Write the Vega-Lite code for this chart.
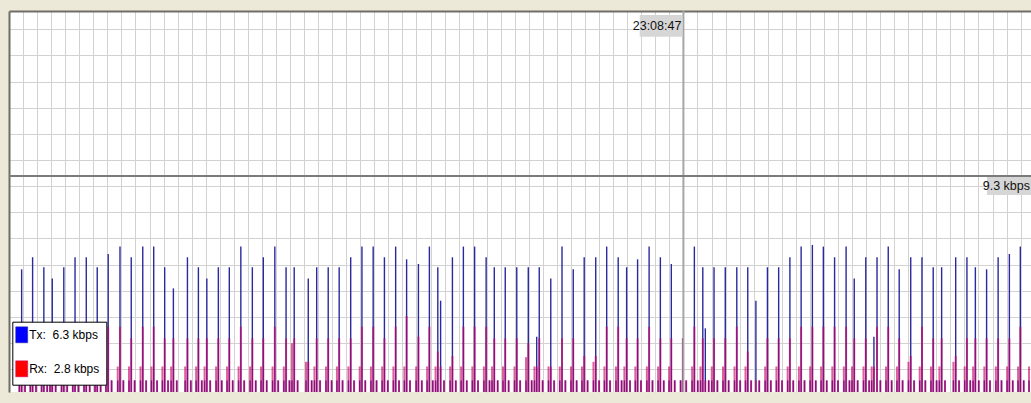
{
  "$schema": "https://vega.github.io/schema/vega-lite/v6.json",
  "width": 1022,
  "height": 381,
  "autosize": "none",
  "padding": {"left": 9, "top": 11, "right": 0, "bottom": 11},
  "background": "#ece9d8",
  "data": {"values": [
    {"t":3.7,"tx":0.5,"rx":1.1},{"t":4.5,"tx":5.28,"rx":2.31},{"t":5.7,"tx":0.5,"rx":0.5},
    {"t":7.6,"tx":0.5,"rx":1.1},{"t":8.4,"tx":5.8,"rx":2.31},{"t":9.6,"tx":0.5,"rx":0.5},
    {"t":11.6,"tx":0.5,"rx":1.1},{"t":12.4,"tx":5.37,"rx":2.31},{"t":13.6,"tx":0.5,"rx":0.5},
    {"t":14.6,"tx":0.5,"rx":0.9},{"t":15.4,"tx":4.89,"rx":2.31},{"t":16.6,"tx":0.5,"rx":0.5},
    {"t":18.7,"tx":0.5,"rx":1.1},{"t":19.5,"tx":5.37,"rx":2.31},{"t":20.7,"tx":0.5,"rx":0.5},
    {"t":22.7,"tx":0.5,"rx":1.1},{"t":23.5,"tx":5.8,"rx":2.31},{"t":24.7,"tx":0.5,"rx":0.5},
    {"t":26.7,"tx":0.5,"rx":1.1},{"t":27.5,"tx":5.8,"rx":2.31},{"t":28.7,"tx":0.5,"rx":0.5},
    {"t":30.6,"tx":0.5,"rx":1.1},{"t":31.4,"tx":5.37,"rx":2.31},{"t":32.6,"tx":0.5,"rx":0.5},
    {"t":34.5,"tx":0.5,"rx":1.1},{"t":35.3,"tx":5.94,"rx":2.81},{"t":36.5,"tx":0.5,"rx":0.5},
    {"t":38.7,"tx":0.5,"rx":1.1},{"t":39.5,"tx":6.26,"rx":2.81},{"t":40.7,"tx":0.5,"rx":0.5},
    {"t":42.7,"tx":0.5,"rx":1.1},{"t":43.5,"tx":5.8,"rx":2.31},{"t":44.7,"tx":0.5,"rx":0.5},
    {"t":46.8,"tx":0.5,"rx":1.1},{"t":47.6,"tx":6.26,"rx":2.81},{"t":48.8,"tx":0.5,"rx":0.5},
    {"t":50.7,"tx":0.5,"rx":1.1},{"t":51.5,"tx":6.26,"rx":2.81},{"t":52.7,"tx":0.5,"rx":0.5},
    {"t":54.6,"tx":0.5,"rx":1.1},{"t":55.4,"tx":5.37,"rx":2.31},{"t":56.6,"tx":0.5,"rx":0.5},
    {"t":57.7,"tx":0.5,"rx":1.1},{"t":58.5,"tx":4.46,"rx":2.31},{"t":59.7,"tx":0.5,"rx":0.5},
    {"t":62.7,"tx":0.5,"rx":1.1},{"t":63.5,"tx":5.8,"rx":2.31},{"t":64.7,"tx":0.5,"rx":0.5},
    {"t":66.6,"tx":0.5,"rx":1.1},{"t":67.4,"tx":5.37,"rx":2.31},{"t":68.6,"tx":0.5,"rx":0.5},
    {"t":69.6,"tx":0.5,"rx":1.1},{"t":70.4,"tx":4.89,"rx":2.31},{"t":71.6,"tx":0.5,"rx":0.5},
    {"t":73.7,"tx":0.5,"rx":1.1},{"t":74.5,"tx":5.37,"rx":2.31},{"t":75.7,"tx":0.5,"rx":0.5},
    {"t":77.6,"tx":0.5,"rx":1.1},{"t":78.4,"tx":5.37,"rx":2.31},{"t":79.6,"tx":0.5,"rx":0.5},
    {"t":81.7,"tx":0.5,"rx":1.1},{"t":82.5,"tx":6.26,"rx":2.81},{"t":83.7,"tx":0.5,"rx":0.5},
    {"t":85.8,"tx":0.5,"rx":1.1},{"t":86.6,"tx":5.37,"rx":2.31},{"t":87.8,"tx":0.5,"rx":0.5},
    {"t":89.7,"tx":0.5,"rx":1.1},{"t":90.5,"tx":5.8,"rx":2.31},{"t":91.7,"tx":0.5,"rx":0.5},
    {"t":93.8,"tx":0.5,"rx":1.1},{"t":94.6,"tx":6.26,"rx":2.81},{"t":95.8,"tx":0.5,"rx":0.5},
    {"t":97.8,"tx":0.5,"rx":1.1},{"t":98.6,"tx":5.37,"rx":2.31},{"t":99.8,"tx":0.5,"rx":0.5},
    {"t":100.7,"tx":0.5,"rx":2.1},{"t":101.5,"tx":5.37,"rx":2.31},{"t":102.7,"tx":0.5,"rx":0.5},
    {"t":105.7,"tx":0.5,"rx":1.3},{"t":106.5,"tx":4.89,"rx":1.3},{"t":107.7,"tx":0.5,"rx":0.5},
    {"t":108.7,"tx":0.5,"rx":1.1},{"t":109.5,"tx":5.37,"rx":2.31},{"t":110.7,"tx":0.5,"rx":0.5},
    {"t":112.8,"tx":0.5,"rx":1.1},{"t":113.6,"tx":5.37,"rx":2.31},{"t":114.8,"tx":0.5,"rx":0.5},
    {"t":116.7,"tx":0.5,"rx":1.1},{"t":117.5,"tx":5.37,"rx":2.31},{"t":118.7,"tx":0.5,"rx":0.5},
    {"t":120.8,"tx":0.5,"rx":1.1},{"t":121.6,"tx":5.8,"rx":2.31},{"t":122.8,"tx":0.5,"rx":0.5},
    {"t":124.8,"tx":0.5,"rx":1.1},{"t":125.6,"tx":6.26,"rx":2.81},{"t":126.8,"tx":0.5,"rx":0.5},
    {"t":128.8,"tx":0.5,"rx":1.1},{"t":129.6,"tx":6.26,"rx":2.81},{"t":130.8,"tx":0.5,"rx":0.5},
    {"t":132.8,"tx":0.5,"rx":1.1},{"t":133.6,"tx":5.8,"rx":2.31},{"t":134.8,"tx":0.5,"rx":0.5},
    {"t":136.8,"tx":0.5,"rx":1.1},{"t":137.6,"tx":6.26,"rx":2.81},{"t":138.8,"tx":0.5,"rx":0.5},
    {"t":140.7,"tx":0.5,"rx":1.1},{"t":141.5,"tx":5.71,"rx":3.27},{"t":142.7,"tx":0.5,"rx":0.5},
    {"t":144.9,"tx":0.5,"rx":1.1},{"t":145.7,"tx":5.51,"rx":2.38},{"t":146.9,"tx":0.5,"rx":0.5},
    {"t":148.8,"tx":0.5,"rx":1.1},{"t":149.6,"tx":6.26,"rx":2.81},{"t":150.8,"tx":0.5,"rx":0.5},
    {"t":151.8,"tx":0.5,"rx":1.1},{"t":152.6,"tx":5.37,"rx":1.74},{"t":153.6,"tx":3.93,"rx":1.09},{"t":154.8,"tx":0.5,"rx":0.5},
    {"t":157.0,"tx":0.5,"rx":1.1},{"t":157.8,"tx":5.8,"rx":1.55},{"t":159.0,"tx":0.5,"rx":0.5},
    {"t":160.9,"tx":0.5,"rx":1.1},{"t":161.7,"tx":6.26,"rx":2.81},{"t":162.9,"tx":0.5,"rx":0.5},
    {"t":164.9,"tx":0.5,"rx":1.1},{"t":165.7,"tx":6.26,"rx":2.81},{"t":166.9,"tx":0.5,"rx":0.5},
    {"t":169.0,"tx":0.5,"rx":1.1},{"t":169.8,"tx":5.8,"rx":2.81},{"t":171.0,"tx":0.5,"rx":0.5},
    {"t":171.9,"tx":0.5,"rx":1.1},{"t":172.7,"tx":5.37,"rx":2.31},{"t":173.9,"tx":0.5,"rx":0.5},
    {"t":175.8,"tx":0.5,"rx":1.1},{"t":176.6,"tx":5.37,"rx":2.31},{"t":177.8,"tx":0.5,"rx":0.5},
    {"t":179.9,"tx":0.5,"rx":1.1},{"t":180.7,"tx":5.37,"rx":2.31},{"t":181.9,"tx":0.5,"rx":0.5},
    {"t":184.0,"tx":0.5,"rx":1.5},{"t":184.8,"tx":5.37,"rx":2.1},{"t":186.0,"tx":0.5,"rx":0.5},
    {"t":187.0,"tx":0.5,"rx":1.1},{"t":187.8,"tx":2.38,"rx":1.09},{"t":188.7,"tx":5.37,"rx":2.31},{"t":189.9,"tx":0.5,"rx":0.5},
    {"t":192.0,"tx":0.5,"rx":1.1},{"t":192.8,"tx":4.89,"rx":1.09},{"t":194.0,"tx":0.5,"rx":0.5},
    {"t":196.0,"tx":0.5,"rx":1.1},{"t":196.8,"tx":6.26,"rx":2.31},{"t":198.0,"tx":0.5,"rx":0.5},
    {"t":200.0,"tx":0.5,"rx":1.1},{"t":200.8,"tx":5.28,"rx":2.31},{"t":202.0,"tx":0.5,"rx":0.5},
    {"t":203.9,"tx":0.5,"rx":1.1},{"t":204.7,"tx":5.8,"rx":1.55},{"t":205.9,"tx":0.5,"rx":0.5},
    {"t":208.0,"tx":0.5,"rx":1.3},{"t":208.8,"tx":5.8,"rx":1.55},{"t":210.0,"tx":0.5,"rx":0.5},
    {"t":211.9,"tx":0.5,"rx":1.1},{"t":212.7,"tx":6.26,"rx":2.81},{"t":213.9,"tx":0.5,"rx":0.5},
    {"t":216.0,"tx":0.5,"rx":1.1},{"t":216.8,"tx":5.8,"rx":2.81},{"t":218.0,"tx":0.5,"rx":0.5},
    {"t":219.0,"tx":0.5,"rx":1.1},{"t":219.8,"tx":5.37,"rx":2.31},{"t":221.0,"tx":0.5,"rx":0.5},
    {"t":222.9,"tx":0.5,"rx":1.1},{"t":223.7,"tx":5.71,"rx":2.31},{"t":224.9,"tx":0.5,"rx":0.5},
    {"t":227.0,"tx":0.5,"rx":1.1},{"t":227.8,"tx":6.26,"rx":2.81},{"t":229.0,"tx":0.5,"rx":0.5},
    {"t":231.0,"tx":0.5,"rx":1.1},{"t":231.8,"tx":5.8,"rx":2.31},{"t":233.0,"tx":0.5,"rx":0.5},
    {"t":234.9,"tx":0.5,"rx":1.1},{"t":235.7,"tx":5.51,"rx":2.31},{"t":236.9,"tx":0.5,"rx":0.5},
    {"t":239.0,"tx":0.5,"rx":0.5},{"t":239.8,"tx":2.31,"rx":2.31},{"t":241.0,"tx":0.5,"rx":0.5},
    {"t":243.1,"tx":0.5,"rx":1.1},{"t":243.9,"tx":6.26,"rx":2.81},{"t":245.1,"tx":0.5,"rx":0.5},
    {"t":246.1,"tx":0.5,"rx":1.1},{"t":246.9,"tx":5.37,"rx":2.31},{"t":247.8,"tx":2.74,"rx":0.5},{"t":249.0,"tx":0.5,"rx":0.5},
    {"t":250.1,"tx":0.5,"rx":1.1},{"t":250.9,"tx":5.37,"rx":2.31},{"t":252.1,"tx":0.5,"rx":0.5},
    {"t":254.1,"tx":0.5,"rx":1.1},{"t":254.9,"tx":5.37,"rx":2.31},{"t":256.1,"tx":0.5,"rx":0.5},
    {"t":258.2,"tx":0.5,"rx":1.1},{"t":259.0,"tx":5.37,"rx":2.81},{"t":260.2,"tx":0.5,"rx":0.5},
    {"t":262.1,"tx":0.5,"rx":1.1},{"t":262.9,"tx":5.37,"rx":1.74},{"t":264.1,"tx":0.5,"rx":0.5},
    {"t":265.8,"tx":3.93,"rx":0.5},{"t":267.0,"tx":0.5,"rx":0.5},
    {"t":269.1,"tx":0.5,"rx":1.1},{"t":269.9,"tx":5.37,"rx":2.31},{"t":271.1,"tx":0.5,"rx":0.5},
    {"t":273.1,"tx":0.5,"rx":1.1},{"t":273.9,"tx":5.37,"rx":2.31},{"t":275.1,"tx":0.5,"rx":0.5},
    {"t":277.1,"tx":0.5,"rx":1.1},{"t":277.9,"tx":5.8,"rx":2.31},{"t":279.1,"tx":0.5,"rx":0.5},
    {"t":281.1,"tx":0.5,"rx":1.1},{"t":281.9,"tx":6.26,"rx":2.81},{"t":283.1,"tx":0.5,"rx":0.5},
    {"t":285.1,"tx":0.5,"rx":1.1},{"t":285.9,"tx":6.33,"rx":2.81},{"t":287.1,"tx":0.5,"rx":0.5},
    {"t":289.0,"tx":0.5,"rx":1.1},{"t":289.8,"tx":6.26,"rx":2.81},{"t":291.0,"tx":0.5,"rx":0.5},
    {"t":293.0,"tx":0.5,"rx":1.1},{"t":293.8,"tx":5.8,"rx":2.81},{"t":295.0,"tx":0.5,"rx":0.5},
    {"t":297.1,"tx":0.5,"rx":1.1},{"t":297.9,"tx":6.26,"rx":2.81},{"t":299.1,"tx":0.5,"rx":0.5},
    {"t":300.0,"tx":0.5,"rx":1.1},{"t":300.8,"tx":4.89,"rx":2.31},{"t":302.0,"tx":0.5,"rx":0.5},
    {"t":304.1,"tx":0.5,"rx":1.1},{"t":304.9,"tx":5.8,"rx":2.31},{"t":306.1,"tx":0.5,"rx":0.5},
    {"t":307.0,"tx":0.5,"rx":1.1},{"t":307.8,"tx":2.38,"rx":1.09},{"t":308.9,"tx":5.8,"rx":2.81},{"t":310.1,"tx":0.5,"rx":0.5},
    {"t":312.1,"tx":0.5,"rx":1.1},{"t":312.9,"tx":6.26,"rx":2.81},{"t":314.1,"tx":0.5,"rx":0.5},
    {"t":316.0,"tx":0.5,"rx":1.1},{"t":316.8,"tx":5.28,"rx":2.31},{"t":318.0,"tx":0.5,"rx":0.5},
    {"t":320.1,"tx":0.5,"rx":1.3},{"t":320.9,"tx":5.8,"rx":1.55},{"t":322.1,"tx":0.5,"rx":0.5},
    {"t":324.1,"tx":0.5,"rx":1.1},{"t":324.9,"tx":5.8,"rx":2.81},{"t":326.1,"tx":0.5,"rx":0.5},
    {"t":328.1,"tx":0.5,"rx":1.1},{"t":328.9,"tx":5.37,"rx":2.31},{"t":330.1,"tx":0.5,"rx":0.5},
    {"t":331.1,"tx":0.5,"rx":1.1},{"t":331.9,"tx":5.37,"rx":2.31},{"t":333.1,"tx":0.5,"rx":0.5},
    {"t":336.1,"tx":0.5,"rx":1.3},{"t":336.9,"tx":5.8,"rx":1.55},{"t":338.1,"tx":0.5,"rx":0.5},
    {"t":340.1,"tx":0.5,"rx":1.1},{"t":340.9,"tx":5.8,"rx":2.31},{"t":342.1,"tx":0.5,"rx":0.5},
    {"t":343.1,"tx":0.5,"rx":1.1},{"t":343.9,"tx":5.37,"rx":2.31},{"t":345.1,"tx":0.5,"rx":0.5},
    {"t":347.1,"tx":0.5,"rx":1.1},{"t":347.9,"tx":5.28,"rx":2.31},{"t":349.1,"tx":0.5,"rx":0.5},
    {"t":351.2,"tx":0.5,"rx":1.1},{"t":352.0,"tx":5.8,"rx":2.31},{"t":353.2,"tx":0.5,"rx":0.5},
    {"t":355.2,"tx":0.5,"rx":1.1},{"t":356.0,"tx":5.94,"rx":2.31},{"t":357.2,"tx":0.5,"rx":0.5},
    {"t":359.1,"tx":0.5,"rx":1.1},{"t":359.9,"tx":6.26,"rx":2.81},{"t":361.1,"tx":0.5,"rx":0.5},
    {"t":363.0,"tx":0.5,"rx":1.1}
  ]},
  "layer": [
    {
      "transform": [
        {"fold": ["tx", "rx"], "as": ["s", "v"]},
        {"filter": "datum.s == 'tx' && isValid(datum.v) && datum.v > 0"}
      ],
      "mark": {"type": "rule", "strokeWidth": 1.4},
      "encoding": {
        "x": {"field": "t", "type": "quantitative", "title": null,
              "scale": {"domain": [0, 363.7], "nice": false, "zero": false},
              "axis": {"orient": "top", "labels": false, "ticks": false, "title": null, "grid": true, "tickCount": 73,
                       "gridColor": "#d2d2d2", "gridWidth": 1, "domainColor": "#6e6e66", "domainWidth": 2}},
        "y": {"field": "v", "type": "quantitative", "title": null,
              "scale": {"domain": [0, 16.4], "nice": false},
              "axis": {"orient": "left", "labels": false, "ticks": false, "title": null, "grid": true,
                       "values": [0.985, 2.111, 3.236, 4.362, 5.487, 6.612, 7.738, 8.863, 9.989, 11.114, 12.24, 13.365, 14.491, 15.616],
                       "gridColor": "#d2d2d2", "gridWidth": 1, "domainColor": "#6e6e66", "domainWidth": 2}},
        "y2": {"datum": 0},
        "color": {"field": "s", "type": "nominal",
                  "scale": {"domain": ["tx", "rx"], "range": ["#2a2a9e", "#c80064"]},
                  "legend": {
                    "orient": "none", "legendX": 3.3, "legendY": 310.7, "title": null, "direction": "vertical",
                    "fillColor": "white", "strokeColor": "black", "padding": 6.6, "rowPadding": 15,
                    "symbolType": "M-1,-1.333H1V1.333H-1Z", "symbolSize": 144, "symbolOffset": -3.7,
                    "labelOffset": 1, "labelFont": "Liberation Sans, Arial, sans-serif",
                    "labelFontSize": 12, "labelColor": "black", "labelLimit": 200,
                    "labelExpr": "datum.value == 'tx' ? 'Tx:\u00a0 6.3 kbps' : 'Rx:\u00a0 2.8 kbps'",
                    "encode": {"symbols": {"update": {
                      "fill": {"signal": "datum.value == 'tx' ? '#0000ff' : '#ff0000'"},
                      "stroke": {"value": "#404040"}, "strokeWidth": {"value": 0.5}, "opacity": {"value": 1}}}}
                  }}
      }
    },
    {
      "transform": [
        {"fold": ["tx", "rx"], "as": ["s", "v"]},
        {"filter": "datum.s == 'rx' && isValid(datum.v) && datum.v > 0"}
      ],
      "mark": {"type": "rule", "strokeWidth": 2, "opacity": 0.62},
      "encoding": {
        "x": {"field": "t", "type": "quantitative", "title": null,
              "axis": {"orient": "top", "labels": false, "ticks": false, "title": null, "grid": true, "tickCount": 73,
                       "gridColor": "#d2d2d2", "gridWidth": 1, "domainColor": "#6e6e66", "domainWidth": 2}},
        "y": {"field": "v", "type": "quantitative", "title": null,
              "axis": {"orient": "left", "labels": false, "ticks": false, "title": null, "grid": true,
                       "values": [0.985, 2.111, 3.236, 4.362, 5.487, 6.612, 7.738, 8.863, 9.989, 11.114, 12.24, 13.365, 14.491, 15.616],
                       "gridColor": "#d2d2d2", "gridWidth": 1, "domainColor": "#6e6e66", "domainWidth": 2}},
        "y2": {"datum": 0},
        "color": {"field": "s", "type": "nominal"}
      }
    },
    {
      "data": {"values": [{}]},
      "mark": {"type": "rule", "color": "#a6a6a6", "strokeWidth": 2},
      "encoding": {"x": {"datum": 240, "type": "quantitative", "title": null,
              "axis": {"orient": "top", "labels": false, "ticks": false, "title": null, "grid": true, "tickCount": 73,
                       "gridColor": "#d2d2d2", "gridWidth": 1, "domainColor": "#6e6e66", "domainWidth": 2}}}
    },
    {
      "data": {"values": [{}]},
      "mark": {"type": "rule", "color": "#7a7a7a", "strokeWidth": 2},
      "encoding": {"y": {"datum": 9.3, "type": "quantitative", "title": null,
              "axis": {"orient": "left", "labels": false, "ticks": false, "title": null, "grid": true,
                       "values": [0.985, 2.111, 3.236, 4.362, 5.487, 6.612, 7.738, 8.863, 9.989, 11.114, 12.24, 13.365, 14.491, 15.616],
                       "gridColor": "#d2d2d2", "gridWidth": 1, "domainColor": "#6e6e66", "domainWidth": 2}}}
    },
    {
      "data": {"values": [{}]},
      "mark": {"type": "rect", "color": "#d6d6d6", "xOffset": -43.7, "x2Offset": -1, "yOffset": 4, "y2Offset": 25.7},
      "encoding": {
        "x": {"datum": 240, "type": "quantitative", "title": null,
              "axis": {"orient": "top", "labels": false, "ticks": false, "title": null, "grid": true, "tickCount": 73,
                       "gridColor": "#d2d2d2", "gridWidth": 1, "domainColor": "#6e6e66", "domainWidth": 2}},
        "x2": {"datum": 240},
        "y": {"datum": 16.4, "type": "quantitative", "title": null,
              "axis": {"orient": "left", "labels": false, "ticks": false, "title": null, "grid": true,
                       "values": [0.985, 2.111, 3.236, 4.362, 5.487, 6.612, 7.738, 8.863, 9.989, 11.114, 12.24, 13.365, 14.491, 15.616],
                       "gridColor": "#d2d2d2", "gridWidth": 1, "domainColor": "#6e6e66", "domainWidth": 2}},
        "y2": {"datum": 16.4}
      }
    },
    {
      "data": {"values": [{}]},
      "mark": {"type": "text", "text": "23:08:47", "align": "right", "baseline": "middle", "dx": -2, "dy": 15,
               "font": "Liberation Sans, Arial, sans-serif", "fontSize": 12.5, "color": "#111111"},
      "encoding": {
        "x": {"datum": 240, "type": "quantitative", "title": null,
              "axis": {"orient": "top", "labels": false, "ticks": false, "title": null, "grid": true, "tickCount": 73,
                       "gridColor": "#d2d2d2", "gridWidth": 1, "domainColor": "#6e6e66", "domainWidth": 2}},
        "y": {"datum": 16.4, "type": "quantitative", "title": null,
              "axis": {"orient": "left", "labels": false, "ticks": false, "title": null, "grid": true,
                       "values": [0.985, 2.111, 3.236, 4.362, 5.487, 6.612, 7.738, 8.863, 9.989, 11.114, 12.24, 13.365, 14.491, 15.616],
                       "gridColor": "#d2d2d2", "gridWidth": 1, "domainColor": "#6e6e66", "domainWidth": 2}}
      }
    },
    {
      "data": {"values": [{}]},
      "mark": {"type": "rect", "color": "#d6d6d6", "xOffset": -44, "x2Offset": 5, "yOffset": 1, "y2Offset": 19},
      "encoding": {
        "x": {"datum": 363.7, "type": "quantitative", "title": null,
              "axis": {"orient": "top", "labels": false, "ticks": false, "title": null, "grid": true, "tickCount": 73,
                       "gridColor": "#d2d2d2", "gridWidth": 1, "domainColor": "#6e6e66", "domainWidth": 2}},
        "x2": {"datum": 363.7},
        "y": {"datum": 9.3, "type": "quantitative", "title": null,
              "axis": {"orient": "left", "labels": false, "ticks": false, "title": null, "grid": true,
                       "values": [0.985, 2.111, 3.236, 4.362, 5.487, 6.612, 7.738, 8.863, 9.989, 11.114, 12.24, 13.365, 14.491, 15.616],
                       "gridColor": "#d2d2d2", "gridWidth": 1, "domainColor": "#6e6e66", "domainWidth": 2}},
        "y2": {"datum": 9.3}
      }
    },
    {
      "data": {"values": [{}]},
      "mark": {"type": "text", "text": "9.3 kbps", "align": "right", "baseline": "middle", "dx": -1, "dy": 10,
               "font": "Liberation Sans, Arial, sans-serif", "fontSize": 12.5, "color": "#111111"},
      "encoding": {
        "x": {"datum": 363.7, "type": "quantitative", "title": null,
              "axis": {"orient": "top", "labels": false, "ticks": false, "title": null, "grid": true, "tickCount": 73,
                       "gridColor": "#d2d2d2", "gridWidth": 1, "domainColor": "#6e6e66", "domainWidth": 2}},
        "y": {"datum": 9.3, "type": "quantitative", "title": null,
              "axis": {"orient": "left", "labels": false, "ticks": false, "title": null, "grid": true,
                       "values": [0.985, 2.111, 3.236, 4.362, 5.487, 6.612, 7.738, 8.863, 9.989, 11.114, 12.24, 13.365, 14.491, 15.616],
                       "gridColor": "#d2d2d2", "gridWidth": 1, "domainColor": "#6e6e66", "domainWidth": 2}}
      }
    }
  ],
  "config": {
    "view": {"stroke": null, "fill": "white"},
    "axis": {"labels": false, "ticks": false, "titleOpacity": 0, "grid": true, "gridColor": "#d2d2d2", "domainColor": "#6e6e66", "domainWidth": 2}
  }
}
